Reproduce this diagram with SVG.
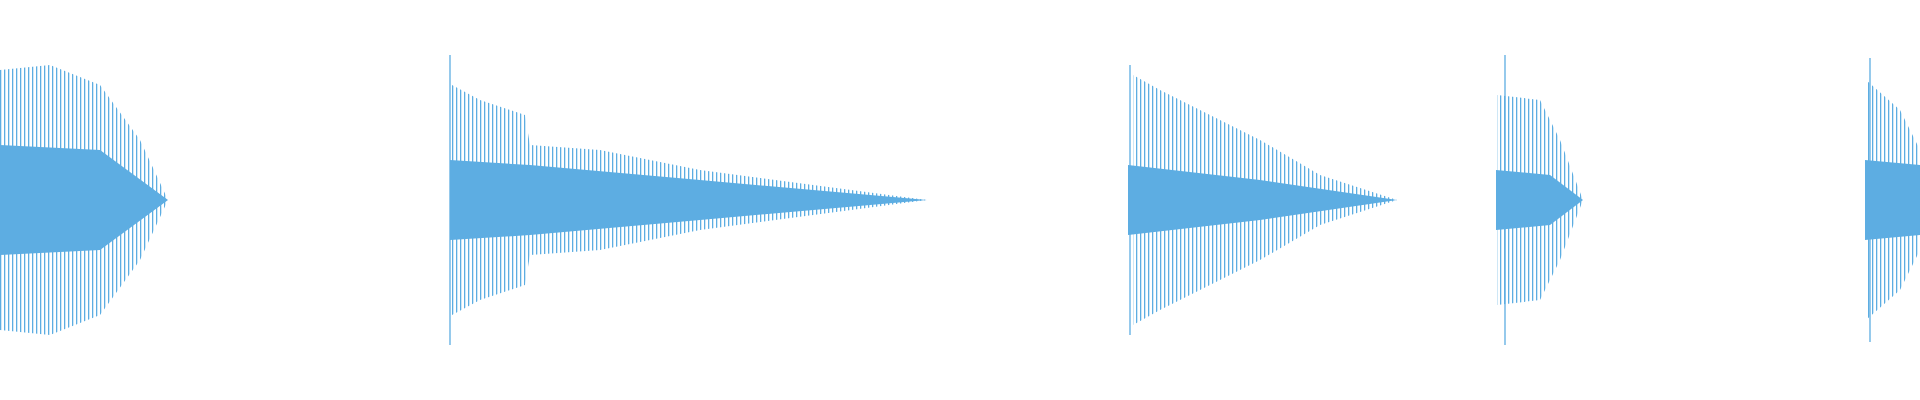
<svg xmlns="http://www.w3.org/2000/svg" width="1920" height="400" viewBox="0 0 1920 400">
<defs>
<pattern id="st" patternUnits="userSpaceOnUse" width="4" height="400"><rect x="0" y="0" width="1.3" height="400" fill="#5DADE2"/></pattern>
<style>.o{fill:url(#st)}.c{fill:#5DADE2}.s{stroke:#5DADE2;stroke-width:1.3}</style>
</defs>
<rect width="1920" height="400" fill="#fff"/>
<path class="o" d="M0,70 L50,65 L100,85 L140,140 L168,200 L140,260 L100,315 L50,335 L0,330 Z"/>
<path class="c" d="M0,145 L100,150 L168,200 L100,250 L0,255 Z"/>
<line class="s" x1="450" y1="55" x2="450" y2="345"/>
<path class="o" d="M452,85 L480,100 L525,115 L530,145 L600,150 L700,170 L927,200 L700,230 L600,250 L530,255 L525,285 L480,300 L452,315 Z"/>
<path class="c" d="M450,160 L530,165 L700,180 L927,200 L700,220 L530,235 L450,240 Z"/>
<line class="s" x1="1130" y1="65" x2="1130" y2="335"/>
<path class="o" d="M1133,75 L1160,90 L1200,110 L1260,140 L1320,175 L1397,200 L1320,225 L1260,260 L1200,290 L1160,310 L1133,325 Z"/>
<path class="c" d="M1128,165 L1260,180 L1397,200 L1260,220 L1128,235 Z"/>
<line class="s" x1="1505" y1="55" x2="1505" y2="345"/>
<path class="o" d="M1497,95 L1540,100 L1560,140 L1583,200 L1560,260 L1540,300 L1497,305 Z"/>
<path class="c" d="M1496,170 L1550,175 L1583,200 L1550,225 L1496,230 Z"/>
<line class="s" x1="1870" y1="58" x2="1870" y2="342"/>
<path class="o" d="M1866,80 L1900,110 L1920,150 L1920,250 L1900,290 L1866,320 Z"/>
<path class="c" d="M1865,160 L1920,165 L1920,235 L1865,240 Z"/>
</svg>
